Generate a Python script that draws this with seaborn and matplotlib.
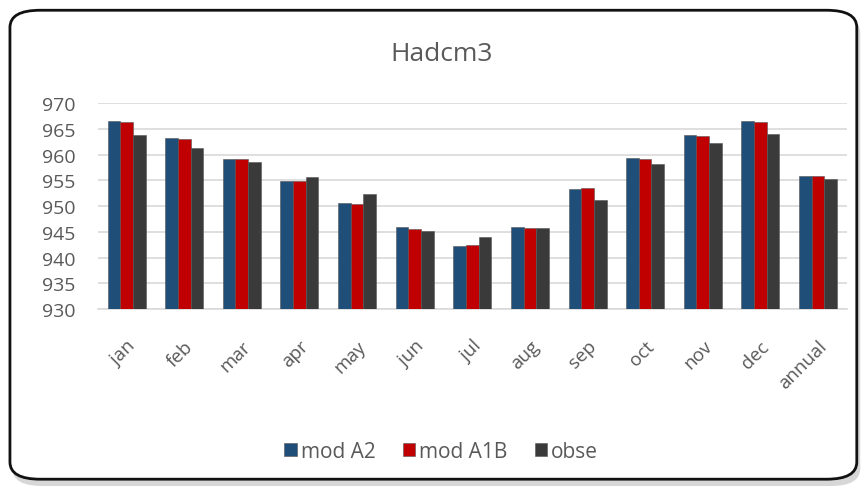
import pandas as pd
import seaborn as sns
import matplotlib.pyplot as plt
from matplotlib.patches import FancyBboxPatch

months = ['jan', 'feb', 'mar', 'apr', 'may', 'jun', 'jul', 'aug', 'sep', 'oct', 'nov', 'dec', 'annual']
mod_a2 = [966.6, 963.3, 959.1, 954.9, 950.6, 946.0, 942.2, 946.0, 953.4, 959.4, 963.9, 966.6, 955.9]
mod_a1b = [966.4, 963.1, 959.1, 954.9, 950.4, 945.5, 942.5, 945.7, 953.6, 959.1, 963.6, 966.4, 955.9]
obse = [963.9, 961.3, 958.6, 955.6, 952.4, 945.1, 943.9, 945.7, 951.2, 958.1, 962.2, 964.1, 955.2]
series = ['mod A2', 'mod A1B', 'obse']

df = pd.DataFrame({
    'month': months * 3,
    'value': mod_a2 + mod_a1b + obse,
    'series': [s for s in series for _ in months],
})

sns.set_style('white')
plt.rcParams['font.family'] = ['Open Sans', 'DejaVu Sans']

fig = plt.figure(figsize=(8.65, 4.89), dpi=100)
# shadow and rounded frame
fig.patches.append(FancyBboxPatch((0.0145, 0.004), 0.98, 0.962, boxstyle='round,pad=0,rounding_size=0.035',
                                  transform=fig.transFigure, facecolor='#bdbdbd', edgecolor='none',
                                  alpha=0.6, zorder=-2))
fig.patches.append(FancyBboxPatch((0.0115, 0.018), 0.979, 0.959, boxstyle='round,pad=0,rounding_size=0.035',
                                  transform=fig.transFigure, facecolor='white', edgecolor='#111111',
                                  linewidth=2, zorder=-1))
ax = fig.add_axes([0.113, 0.366, 0.866, 0.421])
ax.set_zorder(1)
ax.patch.set_alpha(0)

palette = {'mod A2': '#1f4e79', 'mod A1B': '#c00000', 'obse': '#3a3a3a'}
sns.barplot(data=df, x='month', y='value', hue='series', palette=palette, width=0.66,
            saturation=1, ax=ax, zorder=3)
for p in ax.patches:
    p.set_edgecolor('#555555')
    p.set_linewidth(0.4)

ax.set_ylim(930, 970)
ax.set_yticks(range(930, 971, 5))
ax.set_xlim(-0.5, len(months) - 0.5)
ax.yaxis.grid(True, color='#d9d9d9', linewidth=1.2, zorder=0)
for s in ['top', 'right', 'left']:
    ax.spines[s].set_visible(False)
ax.spines['bottom'].set_color('#d9d9d9')
ax.spines['bottom'].set_linewidth(1.2)
ax.set_xlabel('')
ax.set_ylabel('')
ax.tick_params(axis='y', labelsize=14, colors='#595959', length=0, pad=16)
ax.tick_params(axis='x', labelsize=13.5, colors='#595959', length=0, pad=20)
plt.setp(ax.get_xticklabels(), rotation=45, ha='right', rotation_mode='anchor')

fig.text(0.51, 0.888, 'Hadcm3', ha='center', va='center', fontsize=19, color='#595959')

handles, labels = ax.get_legend_handles_labels()
ax.legend(handles, labels, loc='center', bbox_to_anchor=(0.51, 0.075), bbox_transform=fig.transFigure,
          ncol=3, frameon=False, fontsize=15, labelcolor='#595959', handlelength=0.6, handleheight=0.6,
          handletextpad=0.2, columnspacing=1.3)

fig.savefig('out.png', dpi=100)
